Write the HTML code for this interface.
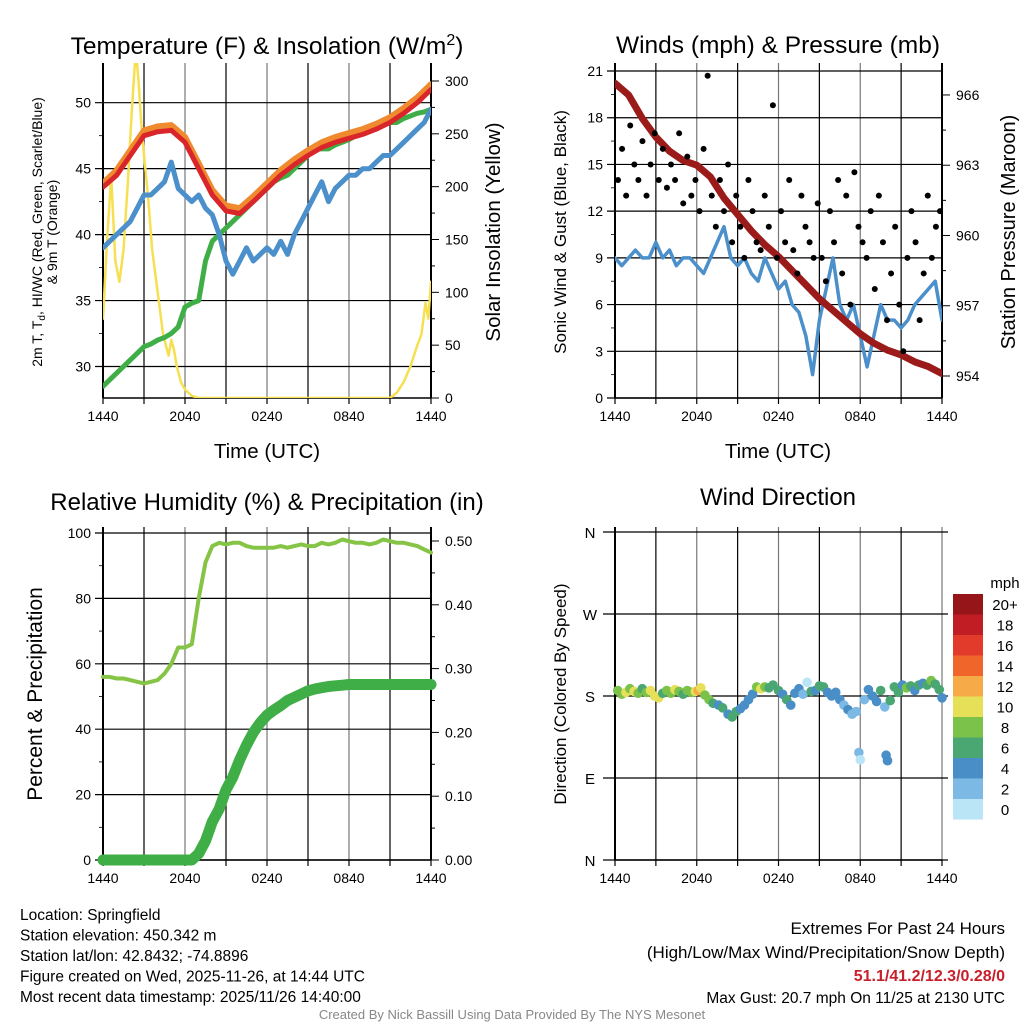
<!DOCTYPE html>
<html><head><meta charset="utf-8"><style>
body{margin:0;background:#fff;}
svg{display:block;font-family:"Liberation Sans",Arial,sans-serif;}
</style></head><body>
<svg id="s" width="1024" height="1024" viewBox="0 0 1024 1024"></svg>
<script>
// ---------- data ----------
const xTickLabels = ["1440","2040","0240","0840","1440"];
const tempRed = [43.6,44.5,46,47.5,47.8,47.9,47,45,43,41.8,41.6,42.5,43.5,44.5,45.3,46,46.6,47,47.3,47.6,48,48.5,49.2,50,51];
const tempOrange = [43.9,44.9,46.4,47.9,48.2,48.3,47.4,45.4,43.4,42.2,42,42.9,43.9,44.9,45.7,46.4,47,47.4,47.7,48,48.4,48.9,49.6,50.4,51.4];
const dewGreen = [28.5,29,29.5,30,30.5,31,31.5,31.7,32,32.2,32.5,33,34.5,34.8,35,38,39.5,40,40.5,41,41.5,42,42.5,43,43.5,44,44.3,44.5,45,45.5,46,46.5,46.5,46.5,46.8,47,47.2,47.5,47.8,48,48,48.3,48.5,48.5,48.8,49,49.2,49.3,49.5];
const chillBlue = [39,39.5,40,40.5,41,42,43,43,43.5,44,45.5,43.5,43,42.5,43,42,41.5,40,38,37,38,39,38,38.5,39,38.5,39.5,38.5,40,41,42,43,44,42.5,43.5,44,44.5,44.5,45,45,45.5,46,46,46.5,47,47.5,48,48.5,49.5];
const solarHours = [0,0.3,0.6,0.9,1.2,1.5,1.8,2.1,2.4,2.6,2.8,3.0,3.3,3.6,4.0,4.4,4.8,5.0,5.2,5.4,5.7,6.0,6.5,7,21,21.5,22,22.5,23,23.3,23.6,23.8,24];
const solarVals = [75,150,210,130,110,140,200,270,330,300,260,230,190,140,100,60,40,55,45,30,15,8,2,0,0,5,15,30,50,60,90,75,110];
const windVals = [9,8.5,9,9.5,9,9,10,9,9.5,8.5,9,9,8.5,8,9,10,11,9,8.5,9,8,7.5,9,8,7,7.5,6,5.5,4,1.5,5,7,9,6,5,6,4,2,4,6,5,5,4.5,5,6,6.5,7,7.5,5];
const gustVals = [14,16,13,17.5,15,14,16.5,13,15,17,14,16,13.5,15,14,17,12.5,15.5,13,14,12,16,20.7,13,11,14,12,15,10,13,11,9,14,12,10,9.5,13,11,18.8,9,12,10,14,9.5,8,13,11,10,9,12.5,9,7.5,12,10,14,8,13,6,14.5,11,10,9,12,7,13,10,5,8,11,6,3,9,12,10,5,8,13,9,11,12];
const pressureVals = [966.5,966,965,964.2,963.6,963.2,963,962.5,961.6,960.9,960.2,959.6,959.1,958.5,957.9,957.3,956.8,956.3,955.8,955.4,955.1,954.9,954.6,954.4,954.1];
const rhVals = [56,56,55.5,55.5,55,54.5,54,54.5,55,57,60,65,65,66,80,91,96,97,96.5,97,97,96,95.5,95.5,95.5,95.5,96,95.5,96,96.5,96,96,97,96.5,97,98,97.5,97,97,96.5,97,98,97.5,97,97,96.5,96,95,94];
const precipVals = [0,0,0,0,0,0,0,0,0,0,0,0,0,0,0.01,0.03,0.06,0.08,0.11,0.13,0.157,0.18,0.2,0.215,0.227,0.235,0.242,0.25,0.255,0.26,0.265,0.268,0.27,0.272,0.273,0.274,0.275,0.275,0.275,0.275,0.275,0.275,0.275,0.275,0.275,0.275,0.275,0.275,0.275];
const dirHours = [0.2,0.5,0.8,1.1,1.4,1.7,2.0,2.3,2.6,2.9,3.2,3.5,3.8,4.1,4.4,4.7,5.0,5.3,5.6,5.9,6.1,6.3,6.6,6.9,7.2,7.6,7.9,8.3,8.6,8.9,9.2,9.5,9.8,10.1,10.4,10.7,11.0,11.3,11.6,12.0,12.3,12.6,12.9,13.2,13.5,13.8,14.1,14.4,14.7,15.0,15.3,15.6,15.9,16.2,16.5,16.8,17.1,17.4,17.7,17.9,18.0,18.3,18.6,18.9,19.2,19.5,19.8,19.9,20.0,20.2,20.5,20.8,21.1,21.4,21.7,22.0,22.3,22.6,22.9,23.2,23.5,23.8,24.0];
const dirDeg = [186,182,184,188,185,183,188,184,186,180,178,183,186,183,187,185,182,186,184,185,186,189,181,176,172,170,167,160,157,163,166,170,176,182,190,188,190,189,192,186,182,176,170,183,188,182,195,185,186,191,190,184,180,184,176,170,165,160,163,118,110,176,187,180,174,186,168,115,109,175,190,184,192,189,191,186,192,194,192,197,193,187,178];
const dirSpeed = [8,9,10,9,10,8,7,9,10,10,10,6,8,9,10,8,7,8,9,10,13,10,8,9,6,4,6,4,6,7,4,4,4,5,8,10,8,6,7,6,4,6,4,4,4,2,1,6,4,7,6,4,4,4,4,2,4,2,2,2,1,2,4,4,4,6,2,4,4,7,6,6,4,8,6,4,6,4,6,8,6,6,4];
const legendLabels = ["0","2","4","6","8","10","12","14","16","18","20+"];
const legendColors = ["#b9e5f7","#7db9e5","#4a8ec8","#4aa772","#7bc24a","#e6e059","#f7ab48","#f0662a","#e23b2c","#c11d25","#951518"];

const NS="http://www.w3.org/2000/svg";
const svg=document.getElementById('s');
function mk(tag,attrs,parent){const e=document.createElementNS(NS,tag);for(const k in attrs)e.setAttribute(k,attrs[k]);(parent||svg).appendChild(e);return e;}
function txt(x,y,s,size,anchor,extra){const e=mk('text',Object.assign({x:x,y:y,'font-size':size,'text-anchor':anchor||'middle',fill:'#000'},extra||{}));e.textContent=s;return e;}
function idxX(x0,x1,n){return i=>x0+(x1-x0)*i/(n-1);}
function hx(x0,x1){return h=>x0+(x1-x0)*h/24;}
function line(pts,color,w,name){const e=mk('polyline',{points:pts.map(p=>p[0].toFixed(1)+','+p[1].toFixed(1)).join(' '),fill:'none',stroke:color,'stroke-width':w,'stroke-linejoin':'round','stroke-linecap':'round'});return e;}

function frame(p){
  for(let k=0;k<=8;k++){const x=p.x0+(p.x1-p.x0)*k/8;const g=mk('line',{x1:x,y1:p.yt,x2:x,y2:p.yb,stroke:k%2?'#000':'#777','stroke-width':1.2});
    const t=mk('line',{x1:x,y1:p.yb,x2:x,y2:p.yb+6,stroke:'#000','stroke-width':1.2});}
  for(let k=0;k<5;k++){const l=txt(p.x0+(p.x1-p.x0)*k/4,p.yb+23,xTickLabels[k],14);}
  const lb=mk('line',{x1:p.x0,y1:p.yt,x2:p.x0,y2:p.yb,stroke:'#000','stroke-width':2});
  const bb=mk('line',{x1:p.x0,y1:p.yb,x2:p.x1,y2:p.yb,stroke:'#000','stroke-width':1.5});
  if(p.right){const rb=mk('line',{x1:p.x1,y1:p.yt,x2:p.x1,y2:p.yb,stroke:'#000','stroke-width':2});}
}
function ygrid(p,y,label,major){
  const g=mk('line',{x1:p.x0-(major?8:4),y1:y,x2:p.right?p.x1:p.x1+6,y2:y,stroke:'#000','stroke-width':major?1.2:0.8});
  if(!major){g.setAttribute('x2',p.x0);}
  
  if(label!==null){const t=txt(p.x0-12,y+5,label,14,'end');}
}
function rtick(p,y,label,minor){
  const g=mk('line',{x1:p.x1,y1:y,x2:p.x1+(minor?4:8),y2:y,stroke:'#000','stroke-width':1});
  if(label!==null){const t=txt(p.x1+14,y+5,label,14,'start');}
}
function rot(x,y,s,size,name){const t=txt(x,y,s,size,'middle',{transform:`rotate(-90 ${x} ${y})`});return t;}

// ---------- Panel 1 ----------
const p1={x0:103,x1:431,yt:63,yb:398,right:true};
const y1=v=>366.5-(v-30)*13.19;
const s1=v=>398-v*1.0567;
frame(p1);
for(let v=30;v<=52;v+=2.5){const maj=v%5===0;ygrid(p1,y1(v),maj?String(v):null,maj);}
for(let v=0;v<=300;v+=25){rtick(p1,s1(v),v%50===0?String(v):null,v%50!==0);}
const clip1=mk('clipPath',{id:'c1'});mk('rect',{x:103,y:63,width:328,height:335},clip1);
const g1=mk('g',{'clip-path':'url(#c1)'});
{const hh=hx(103,431);
 const e=line(solarHours.map((h,i)=>[hh(h),s1(solarVals[i])]),'#f6e052',2.5,'solar-insolation-line');g1.appendChild(e);
 const fg=idxX(103,431,dewGreen.length);const eg=line(dewGreen.map((v,i)=>[fg(i),y1(v)]),'#3fae46',5,'dewpoint-line');g1.appendChild(eg);
 const fb=idxX(103,431,chillBlue.length);const eb=line(chillBlue.map((v,i)=>[fb(i),y1(v)]),'#4b8fcb',5,'windchill-line');g1.appendChild(eb);
 const fo=idxX(103,431,tempOrange.length);const eo=line(tempOrange.map((v,i)=>[fo(i),y1(v)]),'#f08a2e',6,'temp-9m-line');g1.appendChild(eo);
 const fr=idxX(103,431,tempRed.length);const er=line(tempRed.map((v,i)=>[fr(i),y1(v)]),'#d9262b',5,'temp-2m-line');g1.appendChild(er);}
{const t=txt(267,54,'',24.5);t.innerHTML='Temperature (F) &amp; Insolation (W/m<tspan dy="-9" font-size="16">2</tspan><tspan dy="9">)</tspan>';}
{const t=txt(267,458,'Time (UTC)',20.5);}
{const t=rot(42,232,'',14,'temperature-y-axis-title');t.innerHTML='2m T, T<tspan dy="3" font-size="10">d</tspan><tspan dy="-3">, HI/WC (Red, Green, Scarlet/Blue)</tspan>';
 rot(57,232,'& 9m T (Orange)',14,'temperature-y-axis-title-2');}
rot(500,232,'Solar Insolation (Yellow)',20.5,'solar-y-axis-title');

// ---------- Panel 2 ----------
const p2={x0:615,x1:942,yt:63,yb:398,right:true};
const y2=v=>398-v*15.57;
const pr=v=>376-(v-954)*23.42;
frame(p2);
for(let v=0;v<=21;v+=1.5){const maj=v%3===0;ygrid(p2,y2(v),maj?String(v):null,maj);}
for(let v=954;v<=966.6;v+=1.5){const maj=(v-954)%3===0;rtick(p2,pr(v),maj?String(v):null,!maj);}
const clip2=mk('clipPath',{id:'c2'});mk('rect',{x:615,y:63,width:327,height:335},clip2);
const g2=mk('g',{'clip-path':'url(#c2)'});
{const fw=idxX(615,942,windVals.length);const ew=line(windVals.map((v,i)=>[fw(i),y2(v)]),'#4b8fcb',3.5,'sonic-wind-line');g2.appendChild(ew);
 const fp=idxX(615,942,pressureVals.length);const ep=line(pressureVals.map((v,i)=>[fp(i),pr(v)]),'#9b1b1b',7,'pressure-line');g2.appendChild(ep);
 const fgu=idxX(618,940,gustVals.length);
 gustVals.forEach((v,i)=>{const c=mk('circle',{cx:fgu(i),cy:y2(v),r:3,fill:'#000'},g2);
  
  });}
{const t=txt(778,53,'Winds (mph) & Pressure (mb)',24.5);}
{const t=txt(778,458,'Time (UTC)',20.5);}
rot(566,232,'Sonic Wind & Gust (Blue, Black)',17,'wind-y-axis-title');
rot(1015,232,'Station Pressure (Maroon)',20,'pressure-y-axis-title');

// ---------- Panel 3 ----------
const p3={x0:103,x1:431,yt:527,yb:860,right:true};
const y3=v=>860-v*3.27;
const r3=v=>860-v*638;
frame(p3);
for(let v=0;v<=100;v+=10){const maj=v%20===0;ygrid(p3,y3(v),maj?String(v):null,maj);}
for(let v=0;v<=0.5001;v+=0.05){const k=Math.round(v*100);rtick(p3,r3(v),k%10===0?v.toFixed(2):null,k%10!==0);}
{const fp=idxX(103,431,precipVals.length);line(precipVals.map((v,i)=>[fp(i),r3(v)]),'#3fae46',11,'precipitation-line');
 const fr=idxX(103,431,rhVals.length);line(rhVals.map((v,i)=>[fr(i),y3(v)]),'#86c446',4,'relative-humidity-line');}
{const t=txt(267,510,'Relative Humidity (%) & Precipitation (in)',24);}
rot(42,694,'Percent & Precipitation',21,'humidity-y-axis-title');

// ---------- Panel 4 ----------
const p4={x0:615,x1:942,yt:527,yb:860,right:false};
const y4=d=>860-d*(328/360);
const dirLabels=["N","E","S","W","N"];
frame(p4);
for(let k=0;k<5;k++){const y=y4(k*90);const g=mk('line',{x1:603,y1:y,x2:948,y2:y,stroke:'#000','stroke-width':1.2});
 const t=txt(590,y+6,dirLabels[k],15);}
{const hh=hx(615,942);
 dirHours.forEach((h,i)=>{const ci=Math.min(10,Math.floor(dirSpeed[i]/2));
  const c=mk('circle',{cx:hh(h),cy:y4(dirDeg[i]),r:4.8,fill:legendColors[ci]});
  
  });}
{const t=txt(778,505,'Wind Direction',24);}
rot(566,694,'Direction (Colored By Speed)',17,'direction-y-axis-title');
{const t=txt(1005,588,'mph',15);
 for(let i=0;i<11;i++){const top=594+(10-i)*20.5;
  const r=mk('rect',{x:953,y:top,width:30,height:20.5,fill:legendColors[i]});
  
  
  const l=txt(1005,top+16,legendLabels[i],15);
  
  }}

// ---------- text blocks ----------
const infoLines=["Location: Springfield","Station elevation: 450.342 m","Station lat/lon: 42.8432; -74.8896","Figure created on Wed, 2025-11-26, at 14:44 UTC","Most recent data timestamp: 2025/11/26 14:40:00"];
infoLines.forEach((s,i)=>{const t=txt(20,920+i*20.5,s,15.5,'start');});
{let t=txt(1005,934,'Extremes For Past 24 Hours',17,'end');
 t=txt(1005,958,'(High/Low/Max Wind/Precipitation/Snow Depth)',17,'end');
 t=txt(1005,981,'51.1/41.2/12.3/0.28/0',16,'end',{fill:'#c8202a','font-weight':'bold'});
 t=txt(1005,1003,'Max Gust: 20.7 mph On 11/25 at 2130 UTC',15.5,'end');
 t=txt(512,1019,'Created By Nick Bassill Using Data Provided By The NYS Mesonet',13,'middle',{fill:'#888'});}
</script>
</body></html>
